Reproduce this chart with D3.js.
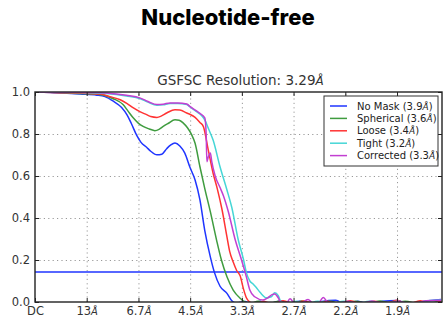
<!DOCTYPE html>
<html>
<head>
<meta charset="utf-8">
<script src="https://cdn.jsdelivr.net/npm/d3@7"></script>
<style>
  html, body { margin: 0; padding: 0; background: #fff; }
  svg { display: block; }
</style>
</head>
<body>
<div id="chart"></div>
<script>
// spatial frequency (1/Å) of each tick and its resolution label
const tickFreqs = [0, 0.0746, 0.1493, 0.2239, 0.2985, 0.3731, 0.4478, 0.5224];
const tickLabels = ["DC", "13Å", "6.7Å", "4.5Å", "3.3Å", "2.7Å", "2.2Å", "1.9Å"];
const yTicks = [0, 0.2, 0.4, 0.6, 0.8, 1.0];
const threshold = 0.143;

const seriesNames = ["No Mask (3.9Å)", "Spherical (3.6Å)", "Loose (3.4Å)", "Tight (3.2Å)", "Corrected (3.3Å)"];
const seriesColors = ["#1f35ff", "#3f9c3f", "#ff3333", "#45d6d6", "#c23fd2"];

// [frequency, FSC]
const noMask = [
  [0, 1], [0.022, 0.998], [0.046, 0.994], [0.065, 0.99], [0.089, 0.985], [0.101, 0.978],
  [0.113, 0.956], [0.125, 0.926], [0.133, 0.89], [0.139, 0.85], [0.147, 0.792], [0.153, 0.76],
  [0.161, 0.737], [0.167, 0.718], [0.176, 0.701], [0.183, 0.704], [0.190, 0.73], [0.196, 0.748],
  [0.202, 0.757], [0.209, 0.743], [0.216, 0.71], [0.224, 0.638], [0.231, 0.581], [0.238, 0.486],
  [0.245, 0.34], [0.253, 0.215], [0.259, 0.14], [0.267, 0.075], [0.277, 0.041], [0.284, 0.006],
  [0.290, -0.005], [0.303, 0.002], [0.313, -0.01], [0.325, 0.004], [0.336, -0.01], [0.354, 0.005],
  [0.368, -0.008], [0.382, 0.004], [0.400, -0.01], [0.414, 0.003], [0.434, 0.008], [0.447, -0.01],
  [0.466, 0.004], [0.483, -0.01], [0.501, 0.003], [0.522, 0.007], [0.541, -0.008], [0.563, 0.004],
  [0.586, 0.012]
];
const spherical = [
  [0, 1], [0.022, 0.999], [0.065, 0.993], [0.089, 0.99], [0.113, 0.968], [0.127, 0.94],
  [0.134, 0.91], [0.142, 0.876], [0.149, 0.852], [0.156, 0.836], [0.165, 0.824], [0.173, 0.816],
  [0.179, 0.822], [0.185, 0.836], [0.192, 0.85], [0.202, 0.868], [0.208, 0.866], [0.214, 0.852],
  [0.220, 0.83], [0.226, 0.797], [0.231, 0.756], [0.238, 0.644], [0.245, 0.54], [0.253, 0.43],
  [0.262, 0.295], [0.269, 0.2], [0.277, 0.12], [0.286, 0.057], [0.296, 0.018], [0.302, 0.002],
  [0.310, -0.008], [0.322, 0.003], [0.336, -0.01], [0.351, 0.004], [0.371, -0.01], [0.385, 0.005],
  [0.404, -0.01], [0.426, 0.003], [0.443, -0.01], [0.462, 0.004], [0.481, -0.008], [0.498, 0.005],
  [0.517, -0.01], [0.534, 0.003], [0.556, -0.01], [0.586, 0.006]
];
const loose = [
  [0, 1], [0.036, 0.997], [0.065, 0.995], [0.094, 0.99], [0.108, 0.978], [0.123, 0.963],
  [0.133, 0.945], [0.142, 0.924], [0.152, 0.905], [0.161, 0.892], [0.167, 0.883], [0.176, 0.879],
  [0.182, 0.885], [0.190, 0.9], [0.202, 0.916], [0.209, 0.914], [0.219, 0.9], [0.224, 0.893],
  [0.231, 0.879], [0.238, 0.855], [0.243, 0.835], [0.250, 0.724], [0.257, 0.613], [0.263, 0.54],
  [0.270, 0.438], [0.277, 0.31], [0.281, 0.24], [0.286, 0.19], [0.291, 0.15], [0.296, 0.125],
  [0.301, 0.06], [0.305, 0.02], [0.310, 0], [0.319, -0.01], [0.330, 0.004], [0.342, -0.01],
  [0.358, 0.006], [0.374, -0.008], [0.388, 0.005], [0.405, -0.01], [0.420, 0.004], [0.437, -0.008],
  [0.455, 0.006], [0.472, -0.01], [0.489, 0.004], [0.506, -0.008], [0.522, 0.008], [0.538, -0.01],
  [0.556, 0.006], [0.573, -0.008], [0.586, 0.006]
];
const tight = [
  [0, 1], [0.065, 0.998], [0.103, 0.993], [0.132, 0.981], [0.152, 0.968], [0.163, 0.952],
  [0.176, 0.937], [0.185, 0.939], [0.195, 0.945], [0.206, 0.945], [0.219, 0.94], [0.224, 0.928],
  [0.233, 0.907], [0.238, 0.895], [0.245, 0.867], [0.251, 0.82], [0.257, 0.771], [0.267, 0.644],
  [0.277, 0.533], [0.284, 0.45], [0.293, 0.3], [0.301, 0.2], [0.305, 0.14], [0.310, 0.1],
  [0.315, 0.085], [0.319, 0.07], [0.325, 0.045], [0.334, 0.02], [0.341, 0.025], [0.346, 0.044],
  [0.351, 0.03], [0.355, 0], [0.365, -0.01], [0.377, 0.004], [0.391, -0.01], [0.408, 0.003],
  [0.426, -0.008], [0.446, 0.004], [0.463, -0.01], [0.483, 0.003], [0.503, -0.008], [0.524, 0.004],
  [0.544, -0.01], [0.567, 0.006], [0.586, 0.01]
];
const corrected = [
  [0, 1], [0.065, 0.999], [0.103, 0.995], [0.132, 0.984], [0.152, 0.971], [0.163, 0.955],
  [0.176, 0.94], [0.185, 0.942], [0.195, 0.948], [0.206, 0.948], [0.219, 0.943], [0.224, 0.93],
  [0.233, 0.91], [0.238, 0.898], [0.245, 0.877], [0.247, 0.8], [0.248, 0.668], [0.250, 0.69],
  [0.253, 0.71], [0.255, 0.67], [0.260, 0.6], [0.267, 0.545], [0.272, 0.505], [0.279, 0.43],
  [0.289, 0.295], [0.298, 0.2], [0.305, 0.12], [0.310, 0.057], [0.317, 0.025], [0.329, 0.01],
  [0.336, 0.02], [0.342, 0.035], [0.346, 0.038], [0.351, 0.02], [0.355, -0.005], [0.362, -0.01],
  [0.368, 0.015], [0.374, -0.005], [0.382, -0.01], [0.394, 0.012], [0.403, -0.01], [0.408, -0.01],
  [0.416, 0.022], [0.423, -0.005], [0.434, -0.01], [0.452, 0.004], [0.469, -0.01], [0.486, 0.005],
  [0.505, -0.01], [0.524, 0.004], [0.544, -0.01], [0.564, 0.006], [0.586, 0.008]
];
const allSeries = [noMask, spherical, loose, tight, corrected];

const W = 443, H = 322;
const margin = { top: 92, right: 1, bottom: 20, left: 35 };
const iw = W - margin.left - margin.right;
const ih = H - margin.top - margin.bottom;

const svg = d3.select('#chart').append('svg')
  .attr('width', W)
  .attr('height', H);

svg.append('text')
  .attr('x', 228)
  .attr('y', 25)
  .attr('text-anchor', 'middle')
  .attr('font-family', 'Inter, sans-serif')
  .attr('font-weight', 800)
  .attr('font-size', 22)
  .attr('fill', '#000')
  .text('Nucleotide-free');

const x = d3.scaleLinear().domain([0, 0.5873]).range([0, iw]);
const y = d3.scaleLinear().domain([0, 1]).range([ih, 0]);

const g = svg.append('g').attr('transform', `translate(${margin.left},${margin.top})`);

g.append('text')
  .attr('x', iw / 2 + 2)
  .attr('y', -7)
  .attr('text-anchor', 'middle')
  .attr('font-family', 'DejaVu Sans, sans-serif')
  .attr('font-size', 13.5)
  .attr('fill', '#333')
  .text('GSFSC Resolution: 3.29')
  .append('tspan').attr('font-style', 'italic').attr('font-size', 12).text('Å');

// dotted grid
g.append('g')
  .attr('transform', `translate(0,${ih})`)
  .call(d3.axisBottom(x).tickValues(tickFreqs.slice(1)).tickSize(-ih).tickFormat(''))
  .call(a => a.select('.domain').remove())
  .selectAll('line').attr('stroke', '#999').attr('stroke-dasharray', '1.2,3.2');
g.append('g')
  .call(d3.axisLeft(y).tickValues(yTicks.slice(1, -1)).tickSize(-iw).tickFormat(''))
  .call(a => a.select('.domain').remove())
  .selectAll('line').attr('stroke', '#999').attr('stroke-dasharray', '1.2,3.2');

g.append('clipPath').attr('id', 'plot-clip')
  .append('rect').attr('width', iw).attr('height', ih);

const plot = g.append('g').attr('clip-path', 'url(#plot-clip)');

plot.append('line')
  .attr('x1', 0).attr('x2', iw)
  .attr('y1', y(threshold)).attr('y2', y(threshold))
  .attr('stroke', seriesColors[0])
  .attr('stroke-width', 1.5);

const line = d3.line()
  .x(d => x(d[0]))
  .y(d => y(d[1]))
  .curve(d3.curveMonotoneX);

plot.selectAll('path.fsc')
  .data(allSeries)
  .enter().append('path')
  .attr('class', 'fsc')
  .attr('d', line)
  .attr('fill', 'none')
  .attr('stroke', (d, i) => seriesColors[i])
  .attr('stroke-width', 1.5);

// axes with inward ticks
const xAxis = g.append('g')
  .attr('transform', `translate(0,${ih})`)
  .call(d3.axisBottom(x).tickValues(tickFreqs).tickSizeInner(-4).tickSizeOuter(0).tickPadding(5)
    .tickFormat((d, i) => tickLabels[i]));
xAxis.selectAll('text').each(function (d, i) {
  const lab = tickLabels[i];
  const t = d3.select(this).text(null);
  if (lab.endsWith('Å')) {
    t.append('tspan').text(lab.slice(0, -1));
    t.append('tspan').attr('font-style', 'italic').attr('font-size', 10).text('Å');
  } else {
    t.text(lab);
  }
});
g.append('g')
  .call(d3.axisTop(x).tickValues(tickFreqs).tickSizeInner(-4).tickSizeOuter(0).tickFormat(''));
g.append('g')
  .call(d3.axisLeft(y).tickValues(yTicks).tickSizeInner(-4).tickSizeOuter(0).tickPadding(5)
    .tickFormat(d3.format('.1f')));
g.append('g')
  .attr('transform', `translate(${iw},0)`)
  .call(d3.axisRight(y).tickValues(yTicks).tickSizeInner(-4).tickSizeOuter(0).tickFormat(''));

g.selectAll('.tick line').filter(function () { return !this.getAttribute('stroke-dasharray'); })
  .attr('stroke', '#222');
g.selectAll('.domain').remove();
g.selectAll('.tick text')
  .attr('font-family', 'DejaVu Sans, sans-serif')
  .attr('font-size', 11.5)
  .attr('fill', '#333');

g.append('rect')
  .attr('width', iw).attr('height', ih)
  .attr('fill', 'none')
  .attr('stroke', '#222')
  .attr('stroke-width', 1.4);

// legend
const lg = g.append('g').attr('transform', `translate(${324 - margin.left},${96 - margin.top})`);
lg.append('rect')
  .attr('width', 114).attr('height', 70)
  .attr('fill', '#fff')
  .attr('stroke', '#333')
  .attr('stroke-width', 1);
const rows = lg.selectAll('g.row')
  .data(seriesNames)
  .enter().append('g')
  .attr('class', 'row')
  .attr('transform', (d, i) => `translate(0,${10 + i * 12.4})`);
rows.append('line')
  .attr('x1', 6).attr('x2', 23)
  .attr('stroke', (d, i) => seriesColors[i])
  .attr('stroke-width', 1.5);
rows.append('text')
  .attr('x', 33)
  .attr('dy', '0.35em')
  .attr('font-family', 'DejaVu Sans, sans-serif')
  .attr('font-size', 10)
  .attr('fill', '#222')
  .each(function (d) {
    const t = d3.select(this);
    const k = d.indexOf('Å');
    t.append('tspan').text(d.slice(0, k));
    t.append('tspan').attr('font-style', 'italic').attr('font-size', 9).text('Å');
    t.append('tspan').text(d.slice(k + 1));
  });
</script>
</body>
</html>
